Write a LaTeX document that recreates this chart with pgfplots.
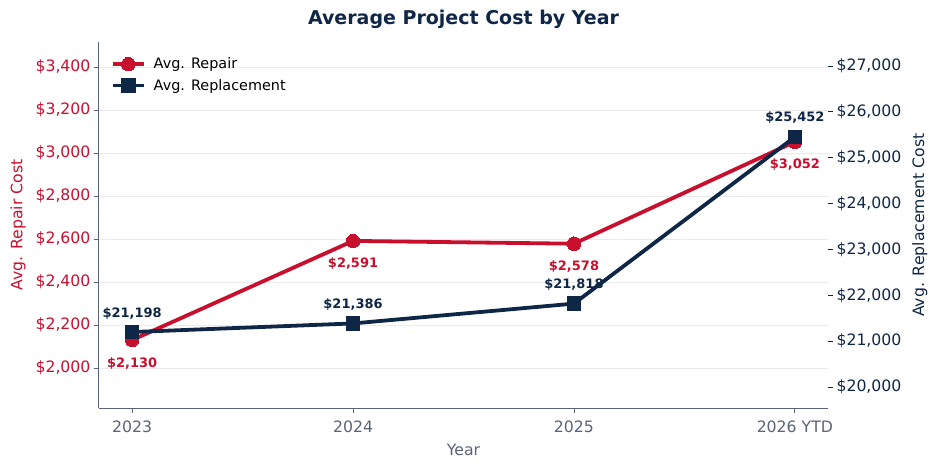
\documentclass[border=0pt]{standalone}
\usepackage{fontspec}
\setmainfont{DejaVu Sans}
\usepackage{pgfplots}
\pgfplotsset{compat=1.18}
\definecolor{rred}{HTML}{C8102E}
\definecolor{navy}{HTML}{0F2747}
\definecolor{slate}{HTML}{5A6478}
\definecolor{gridc}{HTML}{EAEAEA}
\begin{document}
\begin{tikzpicture}[x=1pt,y=1pt]
\path[use as bounding box] (0,0) rectangle (938,469);
\node[font=\fontsize{19}{22}\selectfont\bfseries, text=navy] at (463.5,450) {Average Project Cost by Year};
\begin{axis}[
  at={(99pt,61pt)}, anchor=south west, scale only axis,
  width=729pt, height=366pt,
  xmin=-0.15, xmax=3.15, ymin=1814, ymax=3516,
  xtick={0,1,2,3}, xticklabels={2023,2024,2025,2026 YTD},
  ytick={2000,2200,...,3400},
  yticklabels={{\$2,000},{\$2,200},{\$2,400},{\$2,600},{\$2,800},{\$3,000},{\$3,200},{\$3,400}},
  axis x line*=bottom, axis y line*=left,
  axis line style={-, slate, line width=1pt},
  tick align=outside, major tick length=5pt,
  tick style={slate, line width=0.8pt},
  ymajorgrids, grid style={gridc, line width=0.8pt},
  xticklabel style={font=\fontsize{15.7}{18}\selectfont, text=slate, yshift=-4pt},
  yticklabel style={font=\fontsize{15.7}{18}\selectfont, text=rred},
  xlabel={Year},
  xlabel style={font=\fontsize{15.7}{18}\selectfont, text=slate, at={(axis description cs:0.5,-0.1148)}, anchor=center},
  ylabel={Avg. Repair Cost},
  ylabel style={font=\fontsize{15.7}{18}\selectfont, text=rred, at={(axis description cs:-0.111,0.5)}, anchor=center},
  clip=false,
]
\addplot[rred, line width=3.8pt, mark=*, mark size=6.8pt, mark options={solid, fill=rred, draw=rred, line width=0pt},
  nodes near coords={\$\pgfmathprintnumber[fixed, precision=0, 1000 sep={,}, assume math mode=true]{\pgfplotspointmeta}},
  point meta=y,
  every node near coord/.style={anchor=center, yshift=-23pt, text=rred, font=\fontsize{13}{15}\selectfont\bfseries}]
  coordinates {(0,2130) (1,2591) (2,2578) (3,3052)};
\end{axis}
\begin{axis}[
  at={(99pt,61pt)}, anchor=south west, scale only axis,
  width=729pt, height=366pt,
  xmin=-0.15, xmax=3.15, ymin=19542, ymax=27523,
  scaled y ticks=false,
  axis x line=none, axis y line*=right,
  axis line style={draw=none},
  tick align=outside, major tick length=5pt,
  tick style={navy, line width=0.8pt},
  ytick={20000,21000,...,27000},
  yticklabels={{\$20,000},{\$21,000},{\$22,000},{\$23,000},{\$24,000},{\$25,000},{\$26,000},{\$27,000}},
  yticklabel style={font=\fontsize{15.7}{18}\selectfont, text=navy},
  ylabel={Avg. Replacement Cost},
  ylabel style={font=\fontsize{15.7}{18}\selectfont, text=navy, at={(axis description cs:1.126,0.5)}, anchor=center, rotate=0},
  clip=false,
  legend style={at={(axis description cs:0.012,0.968)}, anchor=north west, draw=none, fill=none,
     font=\fontsize{14.4}{17}\selectfont, row sep=5pt, legend cell align=left,
     /tikz/every odd column/.append style={column sep=6pt}},
  legend image code/.code={\draw[mark repeat=2, mark phase=2, #1] plot coordinates {(0pt,0pt) (15.5pt,0pt) (31pt,0pt)};},
]
\addlegendimage{rred, line width=3.8pt, mark=*, mark size=6.8pt, mark options={solid, fill=rred, draw=rred, line width=0pt}}
\addlegendentry{Avg. Repair}
\addplot[navy, line width=3.8pt, mark=square*, mark size=6.8pt, mark options={solid, fill=navy, draw=navy, line width=0pt},
  nodes near coords={\$\pgfmathprintnumber[fixed, precision=0, 1000 sep={,}, assume math mode=true]{\pgfplotspointmeta}},
  point meta=y,
  every node near coord/.style={anchor=center, yshift=19pt, text=navy, font=\fontsize{13}{15}\selectfont\bfseries}]
  coordinates {(0,21198) (1,21386) (2,21818) (3,25452)};
\addlegendentry{Avg. Replacement}
\end{axis}
\end{tikzpicture}
\end{document}
